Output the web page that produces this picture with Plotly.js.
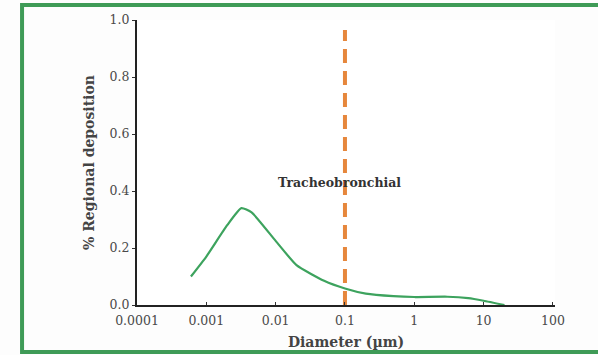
<!DOCTYPE html>
<html>
<head>
<meta charset="utf-8">
<script src="https://cdn.plot.ly/plotly-3.0.1.min.js"></script>
<style>
html,body{margin:0;padding:0;background:#fdfdfd;}
#chart{width:598px;height:355px;}
</style>
</head>
<body>
<div id="chart"></div>
<script>
// Data
const diameter = [0.0006, 0.001, 0.002, 0.0032, 0.0045, 0.01, 0.02, 0.05, 0.1, 0.2, 0.5, 1, 3, 6, 10, 20];
const deposition = [0.10, 0.17, 0.28, 0.34, 0.325, 0.225, 0.14, 0.085, 0.058, 0.04, 0.031, 0.028, 0.029, 0.024, 0.015, 0.0];
const cutoffX = [0.1, 0.1];
const cutoffY = [0.0, 0.965];
const xTickVals = [0.0001, 0.001, 0.01, 0.1, 1, 10, 100];
const xTickText = ["0.0001", "0.001", "0.01", "0.1", "1", "10", "100"];
const yTickVals = [0, 0.2, 0.4, 0.6, 0.8, 1.0];
const yTickText = ["0.0", "0.2", "0.4", "0.6", "0.8", "1.0"];
const regionLabel = "Tracheobronchial";

const serif = "DejaVu Serif, Liberation Serif, serif";

const traces = [
  {
    x: cutoffX, y: cutoffY, mode: "lines", type: "scatter",
    line: {color: "#e6873c", width: 4, dash: "14px,8px"},
    hoverinfo: "skip", showlegend: false
  },
  {
    x: diameter, y: deposition, mode: "lines", type: "scatter",
    line: {color: "#3da35e", width: 2.2, shape: "spline", smoothing: 0.5},
    showlegend: false
  }
];

const layout = {
  width: 598, height: 355,
  margin: {l: 137, r: 43, t: 20, b: 50},
  paper_bgcolor: "#fdfdfd",
  plot_bgcolor: "#ffffff",
  showlegend: false,
  xaxis: {
    type: "log", range: [-4, 2.03],
    tickvals: xTickVals, ticktext: xTickText,
    ticks: "inside", ticklen: 3, tickcolor: "#333", tickwidth: 1,
    ticklabelstandoff: 3,
    showline: true, linecolor: "#222", linewidth: 2,
    showgrid: false, zeroline: false,
    tickfont: {family: serif, size: 12.5, color: "#4a4a4a"},
    title: {text: "<b>Diameter (µm)</b>", font: {family: serif, size: 14, color: "#444"}, standoff: 10}
  },
  yaxis: {
    range: [0, 1.0],
    tickvals: yTickVals, ticktext: yTickText,
    ticks: "outside", ticklen: 3, tickcolor: "#333", tickwidth: 1,
    showline: true, linecolor: "#222", linewidth: 2,
    showgrid: false, zeroline: false,
    tickfont: {family: serif, size: 12.5, color: "#4a4a4a"},
    title: {text: "<b>% Regional deposition</b>", font: {family: serif, size: 14, color: "#444"}, standoff: 12}
  },
  annotations: [
    {
      x: -1.08, y: 0.43, xref: "x", yref: "y", text: "<b>" + regionLabel + "</b>",
      showarrow: false, font: {family: serif, size: 12.5, color: "#333"}
    }
  ],
  shapes: [
    {
      type: "rect", xref: "paper", yref: "paper",
      x0: -0.275, x1: 1.2, y0: -0.165, y1: 1.053,
      line: {color: "#3f9b57", width: 4}, fillcolor: "rgba(0,0,0,0)", layer: "above"
    }
  ]
};

Plotly.newPlot("chart", traces, layout, {displayModeBar: false, staticPlot: true});
</script>
</body>
</html>
